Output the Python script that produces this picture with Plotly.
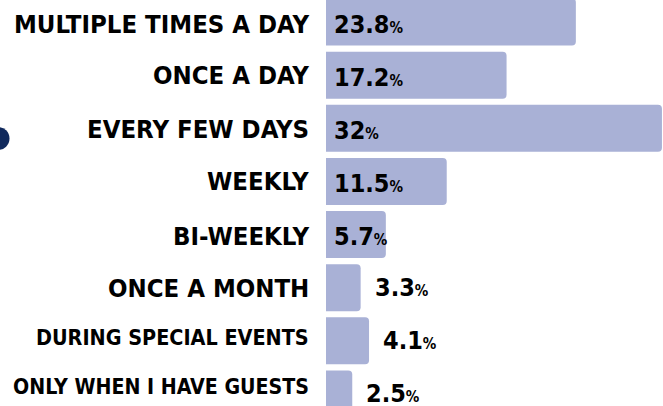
import plotly.graph_objects as go

categories = ["MULTIPLE TIMES A DAY", "ONCE A DAY", "EVERY FEW DAYS", "WEEKLY",
              "BI-WEEKLY", "ONCE A MONTH", "DURING SPECIAL EVENTS", "ONLY WHEN I HAVE GUESTS"]
values = [23.8, 17.2, 32, 11.5, 5.7, 3.3, 4.1, 2.5]
value_labels = ["23.8", "17.2", "32", "11.5", "5.7", "3.3", "4.1", "2.5"]
label_sizes = [25.5, 25.5, 25.5, 25.5, 25.5, 25.5, 21.4, 21.2]
label_yshift = [-2, 0, -1, 0, -1, 0, 3, 7]

BAR = "#a9b1d6"
FONT = "DejaVu Sans Condensed, Liberation Sans Narrow, Arial Narrow, sans-serif"

ypos = list(range(len(categories)))

fig = go.Figure()
fig.add_trace(go.Bar(
    x=values, y=ypos, orientation="h", width=0.885,
    marker=dict(color=BAR, line=dict(width=0)),
    hoverinfo="skip",
))

ann = []
for i, (cat, v, lab, sz, ys) in enumerate(zip(categories, values, value_labels,
                                               label_sizes, label_yshift)):
    ann.append(dict(x=0, y=i, xref="x", yref="y", text="<b>%s</b>" % cat,
                    showarrow=False, xanchor="right", yanchor="middle",
                    xshift=-15, yshift=ys,
                    font=dict(family=FONT, size=sz, color="#000000")))
    txt = "<b>%s<span style='font-size:15px'>%%</span></b>" % lab
    if v < 5:
        ann.append(dict(x=v, y=i, xref="x", yref="y", text=txt, showarrow=False,
                        xanchor="left", yanchor="middle", xshift=12, yshift=0,
                        font=dict(family=FONT, size=25, color="#000000")))
    else:
        ann.append(dict(x=0, y=i, xref="x", yref="y", text=txt, showarrow=False,
                        xanchor="left", yanchor="middle", xshift=6, yshift=-2,
                        font=dict(family=FONT, size=25, color="#000000")))

fig.update_layout(
    width=663, height=406,
    margin=dict(l=326, r=0, t=0, b=0),
    paper_bgcolor="white", plot_bgcolor="white",
    showlegend=False,
    barcornerradius=4,
    xaxis=dict(range=[0, 32.1], visible=False, fixedrange=True),
    yaxis=dict(range=[7.226, -0.414], visible=False, fixedrange=True),
    annotations=ann,
    shapes=[dict(type="circle", xref="paper", yref="paper",
                 x0=-326 / 337 - 13.5 / 337, x1=-326 / 337 + 9.5 / 337,
                 y0=1 - 150 / 406, y1=1 - 127 / 406,
                 fillcolor="#10295c", line=dict(width=0), layer="above")],
)

fig.write_html("out.html", config={"displayModeBar": False},
               post_script="document.body.style.margin='0';")
